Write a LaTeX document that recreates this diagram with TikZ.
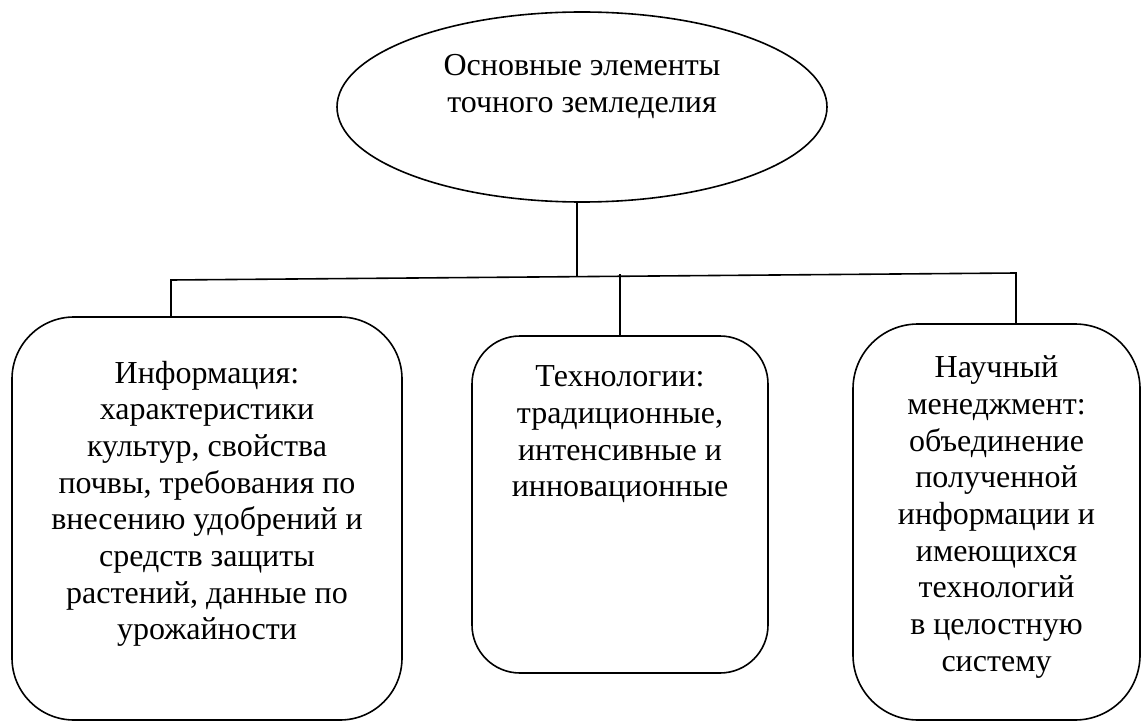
\documentclass[tikz,border=0pt]{standalone}
\usepackage{fontspec}
\setmainfont{Liberation Serif}
\usetikzlibrary{shapes.geometric}
\begin{document}
\begin{tikzpicture}[x=1pt,y=-1pt,
  line width=1.6pt,
  txt/.style={align=center,inner sep=0pt,font=\fontsize{32}{36.7}\selectfont},
  rbox/.style={draw,rounded corners=#1,inner sep=0pt},
  oval/.style={draw,ellipse,inner sep=0pt}]
\useasboundingbox (0,0) rectangle (1143,722);
% top ellipse
\node[oval,minimum width=490,minimum height=190] (root) at (582,107) {};
\node[txt,anchor=north] (roottxt) at (582,54) {Основные элементы\\точного земледелия};
% boxes
\node[rbox=62,minimum width=390,minimum height=403] (left) at (207,518.5) {};
\node[rbox=48,minimum width=296,minimum height=337] (mid) at (620,504.5) {};
\node[rbox=65,minimum width=287,minimum height=396] (right) at (996.5,522) {};
\node[txt,anchor=north] (lefttxt) at (207,360) {Информация:\\характеристики\\культур, свойства\\почвы, требования по\\внесению удобрений и\\средств защиты\\растений, данные по\\урожайности};
\node[txt,anchor=north] (midtxt) at (620,365) {Технологии:\\традиционные,\\интенсивные и\\инновационные};
\node[txt,anchor=north] (righttxt) at (996.5,355) {Научный\\менеджмент:\\объединение\\полученной\\информации и\\имеющихся\\технологий\\в целостную\\систему};
% connectors
\coordinate (busL) at (171,280);
\coordinate (busR) at (1016,273);
\coordinate (rootbus) at (577,276);
\coordinate (midbus) at (620,274);
\draw (root.south -| rootbus) -- (rootbus);
\draw (left.north -| busL) -- (busL) -- (busR) -- (busR |- right.north);
\draw (midbus) -- (mid.north);
\end{tikzpicture}
\end{document}
